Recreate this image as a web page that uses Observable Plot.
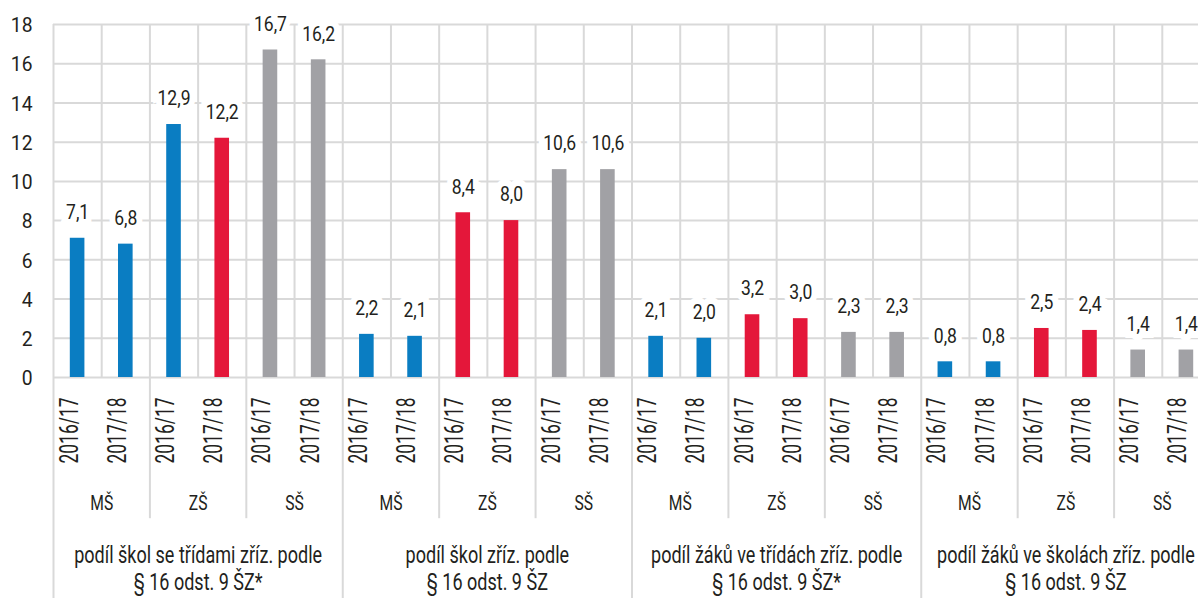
<!DOCTYPE html>
<html>
<head>
<meta charset="utf-8">
<script src="https://cdn.jsdelivr.net/npm/d3@7"></script>
<script src="https://cdn.jsdelivr.net/npm/@observablehq/plot@0.6"></script>
<style>
  html, body { margin: 0; padding: 0; background: #fff; overflow: hidden; }
  #chart svg { display: block; }
</style>
</head>
<body>
<div id="chart"></div>
<script>
const groups = [
  "podíl škol se třídami zříz. podle\n§ 16 odst. 9 ŠZ*",
  "podíl škol zříz. podle\n§ 16 odst. 9 ŠZ",
  "podíl žáků ve třídách zříz. podle\n§ 16 odst. 9 ŠZ*",
  "podíl žáků ve školách zříz. podle\n§ 16 odst. 9 ŠZ"
];
const levels = ["MŠ", "ZŠ", "SŠ"];
const years = ["2016/17", "2017/18"];
const values = [
  7.1, 6.8, 12.9, 12.2, 16.7, 16.2,
  2.2, 2.1, 8.4, 8.0, 10.6, 10.6,
  2.1, 2.0, 3.2, 3.0, 2.3, 2.3,
  0.8, 0.8, 2.5, 2.4, 1.4, 1.4
];
const colorKeys = [
  "MŠ", "MŠ", "MŠ", "ZŠ", "SŠ", "SŠ",
  "MŠ", "MŠ", "ZŠ", "ZŠ", "SŠ", "SŠ",
  "MŠ", "MŠ", "ZŠ", "ZŠ", "SŠ", "SŠ",
  "MŠ", "MŠ", "ZŠ", "ZŠ", "SŠ", "SŠ"
];
const yTicks = [0, 2, 4, 6, 8, 10, 12, 14, 16, 18];

const data = values.map((v, i) => ({
  i,
  value: v,
  group: groups[Math.floor(i / 6)],
  level: levels[Math.floor(i / 2) % 3],
  year: years[i % 2],
  color: colorKeys[i],
  label: v.toFixed(1).replace(".", ",")
}));
const subs = d3.range(12).map(k => ({ k, level: levels[k % 3] }));
const grps = groups.map((g, k) => ({ k, g }));
const slotBounds = d3.range(25);
const subBounds = d3.range(0, 25, 2).filter(b => b % 6 !== 0);
const grpBounds = d3.range(0, 25, 6);

const font = "Roboto, 'Noto Sans', sans-serif";
const grid = "#d9d9d9";
const ink = "#231f20";

const plot = Plot.plot({
  width: 1198,
  height: 598,
  marginLeft: 53,
  marginRight: -12,
  marginTop: 24,
  marginBottom: 221,
  style: { fontFamily: font, fontSize: "21px", color: ink, background: "#fff", overflow: "visible" },
  x: { domain: [0, 24], axis: null },
  y: { domain: [0, 18], axis: null },
  color: { domain: levels, range: ["#0a7dc2", "#e4173a", "#a1a1a5"] },
  marks: [
    Plot.gridY(yTicks, { stroke: grid, strokeOpacity: 1, strokeWidth: 2 }),
    Plot.ruleX(slotBounds, { x: d => d, y1: 0, y2: 18, stroke: grid, strokeWidth: 2 }),
    Plot.ruleX(subBounds, { x: d => d, y1: 0, y2: -7.2, stroke: grid, strokeWidth: 2 }),
    Plot.ruleX(grpBounds, { x: d => d, y1: 0, y2: -12, stroke: grid, strokeWidth: 2 }),
    Plot.axisY(yTicks, { tickSize: 0, tickPadding: 21, label: null, tickFormat: d => d, fontSize: 21, fill: ink, dy: 1 }),
    Plot.rectY(data, { x1: d => d.i, x2: d => d.i + 1, y: "value", fill: "color", insetLeft: 16.8, insetRight: 16.8 }),
    Plot.text(data, {
      x: d => d.i + 0.5, y: "value", text: "label", dy: -26, ariaDescription: "vlabels",
      fill: ink, stroke: "white", strokeWidth: 14, strokeLinejoin: "miter", fontSize: 21
    }),
    Plot.text(data, {
      x: d => d.i + 0.5, frameAnchor: "bottom", text: "year", rotate: -90, ariaDescription: "years",
      textAnchor: "end", dy: 20, fill: ink, fontSize: 25
    }),
    Plot.text(subs, {
      x: d => d.k * 2 + 1, frameAnchor: "bottom", text: "level", dy: 132, ariaDescription: "levels",
      fill: ink, fontSize: 21
    }),
    Plot.text(grps, {
      x: d => d.k * 6 + 3, frameAnchor: "bottom", text: "g", dy: 166, ariaDescription: "groups",
      lineAnchor: "top", lineHeight: 1.17, fill: ink, fontSize: 23
    })
  ]
});

document.getElementById("chart").appendChild(plot);

// narrow the glyphs horizontally to imitate the condensed face of the original
function squeezeTexts(nodes, s) {
  nodes.forEach(t => {
    const tr = t.getAttribute("transform");
    if (tr) {
      t.setAttribute("transform", tr + ` scale(${s},1)`);
    } else {
      const x = t.getAttribute("x") || 0, y = t.getAttribute("y") || 0;
      t.removeAttribute("x"); t.removeAttribute("y");
      t.setAttribute("transform", `translate(${x},${y}) scale(${s},1)`);
    }
  });
}
function fit(selector, sampleText, targetWidth) {
  const nodes = Array.from(plot.querySelectorAll(selector));
  let sample = null;
  for (const t of nodes) {
    const spans = t.querySelectorAll("tspan");
    const cands = spans.length ? Array.from(spans) : [t];
    for (const c of cands) if (c.textContent === sampleText) { sample = c; break; }
    if (sample) break;
  }
  if (!sample) return;
  const w = sample.getComputedTextLength();
  if (w > 0) squeezeTexts(nodes, targetWidth / w);
}
fit(`g[aria-label="y-axis tick label"] text`, "18", 21.7);
fit(`g[aria-description="vlabels"] text`, "16,7", 33);
fit(`g[aria-description="years"] text`, "2016/17", 66);
fit(`g[aria-description="levels"] text`, "MŠ", 23);
fit(`g[aria-description="groups"] text`, "podíl škol se třídami zříz. podle", 248);
</script>
</body>
</html>
